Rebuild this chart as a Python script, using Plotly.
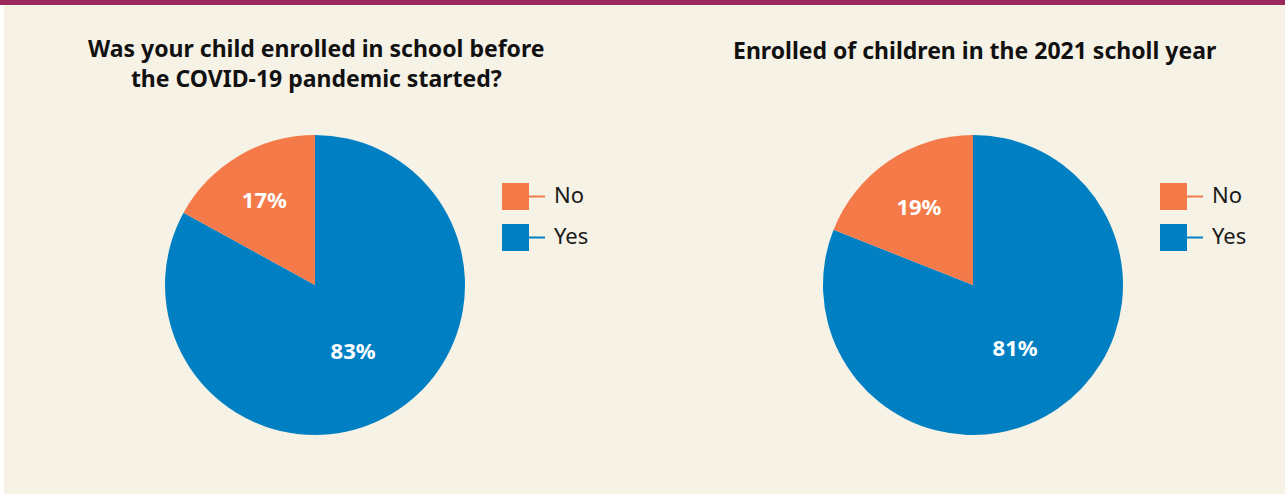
import plotly.graph_objects as go

W, H = 1285, 494

categories = ["No", "Yes"]
before_values = [17, 83]
year2021_values = [19, 81]
titles = [
    "Was your child enrolled in school before<br>the COVID-19 pandemic started?",
    "Enrolled of children in the 2021 scholl year",
]
colors = ["#F47A4A", "#0080C3"]

CREAM = "#F6F2E6"
MAROON = "#98295A"
FONT = "Noto Sans"

fig = go.Figure()

def px_x(x):
    return x / W

def px_y(y):
    return 1 - y / H

pies = [
    dict(values=before_values, cx=315, cy=285, r=150, legx=502, title=titles[0], ty=63),
    dict(values=year2021_values, cx=973, cy=285, r=150, legx=1160, title=titles[1], ty=50),
]

for p in pies:
    fig.add_trace(go.Pie(
        labels=categories[::-1], values=p["values"][::-1], sort=False, direction="clockwise",
        rotation=0, marker=dict(colors=colors[::-1], line=dict(width=0)),
        texttemplate="<b>%{value}%</b>", textposition="inside", insidetextorientation="horizontal",
        textfont=dict(family=FONT, size=22, color="white"),
        hoverinfo="label+percent", showlegend=False,
        domain=dict(x=[px_x(p["cx"] - p["r"]), px_x(p["cx"] + p["r"])],
                    y=[px_y(p["cy"] + p["r"]), px_y(p["cy"] - p["r"])]),
    ))

shapes = [
    dict(type="rect", xref="paper", yref="paper", x0=px_x(4), x1=1, y0=0, y1=px_y(5),
         fillcolor=CREAM, line=dict(width=0), layer="below"),
    dict(type="rect", xref="paper", yref="paper", x0=0, x1=1, y0=px_y(5), y1=1,
         fillcolor=MAROON, line=dict(width=0), layer="below"),
]
annotations = []

for p in pies:
    annotations.append(dict(
        text="<b>" + p["title"] + "</b>", x=px_x(p["cx"] + 1), y=px_y(p["ty"]),
        xref="paper", yref="paper", showarrow=False, xanchor="center", yanchor="middle",
        font=dict(family=FONT, size=23, color="#111111"),
    ))
    for i, (cat, col) in enumerate(zip(categories, colors)):
        top = 183 + 41 * i
        lx = p["legx"]
        shapes.append(dict(type="rect", xref="paper", yref="paper",
                           x0=px_x(lx), x1=px_x(lx + 27), y0=px_y(top + 27), y1=px_y(top),
                           fillcolor=col, line=dict(width=0)))
        shapes.append(dict(type="line", xref="paper", yref="paper",
                           x0=px_x(lx + 27), x1=px_x(lx + 43), y0=px_y(top + 13.5), y1=px_y(top + 13.5),
                           line=dict(color=col, width=2)))
        annotations.append(dict(text=cat, x=px_x(lx + 50), y=px_y(top + 11),
                                xref="paper", yref="paper", showarrow=False,
                                xanchor="left", yanchor="middle",
                                font=dict(family=FONT, size=22, color="#1a1a1a")))

fig.update_layout(
    width=W, height=H, margin=dict(l=0, r=0, t=0, b=0),
    paper_bgcolor="white", plot_bgcolor="white",
    shapes=shapes, annotations=annotations,
    font=dict(family=FONT),
)

fig.write_html("out.html", config={"displayModeBar": False},
               post_script="document.body.style.margin='0';document.body.style.overflow='hidden';")
